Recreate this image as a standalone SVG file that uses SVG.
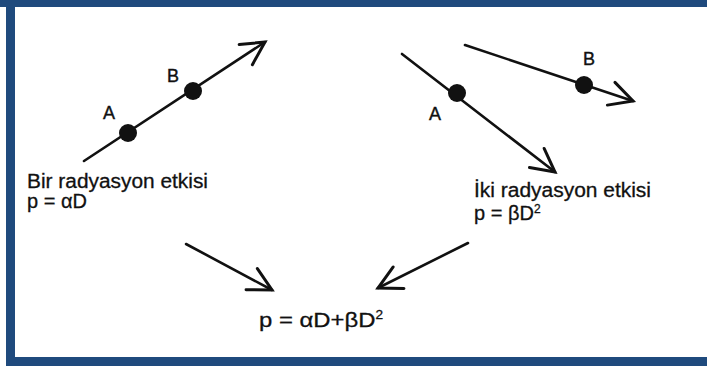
<svg xmlns="http://www.w3.org/2000/svg" width="707" height="372" viewBox="0 0 707 372">
<defs>
<style>
.frame{fill:#1f4a7d}
.ln{stroke:#111;stroke-width:2.6;fill:none;stroke-linecap:round}
.dot{fill:#111}
.t{font-family:"Liberation Sans",Arial,sans-serif;font-size:20px;fill:#111;stroke:#111;stroke-width:0.3}
.big{font-size:21px}
.sup{font-size:12px}
.lbl{font-family:"Liberation Sans",Arial,sans-serif;font-size:18px;fill:#111;stroke:#111;stroke-width:0.4;text-anchor:middle}
</style>
<marker id="head" markerUnits="userSpaceOnUse" markerWidth="40" markerHeight="40" refX="0" refY="0" viewBox="-30 -20 40 40" orient="auto" overflow="visible">
<path d="M -23 -12 L 0 0 L -23 12" fill="none" stroke="#111" stroke-width="3" stroke-linecap="round" stroke-linejoin="miter"/>
</marker>
</defs>
<rect width="707" height="372" fill="#fff"/>
<g id="frame">
<rect class="frame" x="0" y="0" width="707" height="7"/>
<rect class="frame" x="6" y="0" width="9" height="366"/>
<rect class="frame" x="6" y="357" width="701" height="9"/>
</g>
<g id="connectors">
<line class="ln" x1="84" y1="161" x2="265" y2="42" marker-end="url(#head)"/>
<line class="ln" x1="402" y1="54" x2="555" y2="172" marker-end="url(#head)"/>
<line class="ln" x1="465" y1="45" x2="633" y2="101" marker-end="url(#head)"/>
<line class="ln" x1="186" y1="244" x2="272" y2="290" marker-end="url(#head)"/>
<line class="ln" x1="468" y1="243" x2="378" y2="288" marker-end="url(#head)"/>
</g>
<g id="single">
<circle class="dot" cx="128" cy="133" r="9"/>
<circle class="dot" cx="193" cy="91" r="9"/>
<text class="lbl" x="109" y="119">A</text>
<text class="lbl" x="173" y="82">B</text>
<text class="t" x="27" y="188" textLength="181" lengthAdjust="spacingAndGlyphs">Bir radyasyon etkisi</text>
<text class="t" x="27" y="208">p = αD</text>
</g>
<g id="double">
<circle class="dot" cx="457" cy="93" r="9"/>
<circle class="dot" cx="584" cy="85" r="9"/>
<text class="lbl" x="435" y="120">A</text>
<text class="lbl" x="589" y="65">B</text>
<text class="t" x="474" y="197" textLength="177" lengthAdjust="spacingAndGlyphs">İki radyasyon etkisi</text>
<text class="t" x="474" y="220">p = βD<tspan class="sup" dy="-7">2</tspan></text>
</g>
<g id="result">
<text class="t big" x="259" y="327" textLength="124" lengthAdjust="spacingAndGlyphs">p = αD+βD<tspan class="sup" dy="-8">2</tspan></text>
</g>
</svg>
